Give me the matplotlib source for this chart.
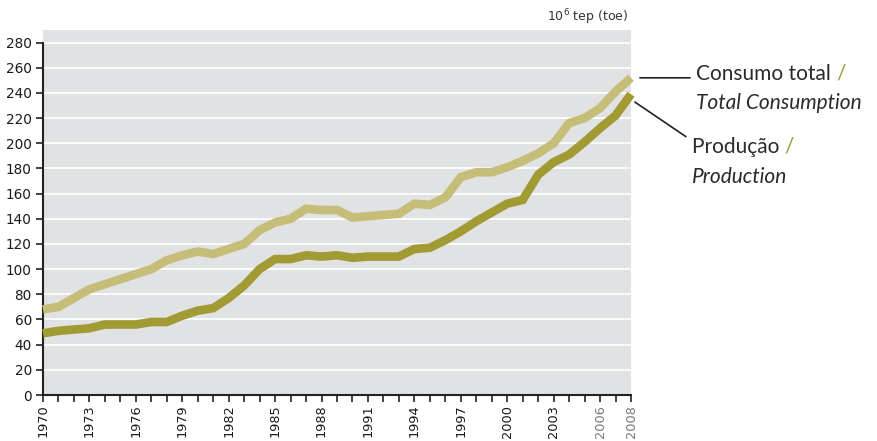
import matplotlib
matplotlib.use("Agg")
import matplotlib.pyplot as plt

# data (10^6 tep)
years = list(range(1970, 2009))
consumption = [68, 70, 77, 84, 88, 92, 96, 100, 107, 111, 114, 112, 116, 120, 131, 137, 140, 148, 147, 147,
               141, 142, 143, 144, 152, 151, 157, 173, 177, 177, 181, 186, 192, 200, 216, 220, 228, 241, 252]
production = [49, 51, 52, 53, 56, 56, 56, 58, 58, 63, 67, 69, 77, 87, 100, 108, 108, 111, 110, 111,
              109, 110, 110, 110, 116, 117, 123, 130, 138, 145, 152, 155, 175, 185, 191, 201, 212, 222, 239]
tick_years = [1970, 1973, 1976, 1979, 1982, 1985, 1988, 1991, 1994, 1997, 2000, 2003, 2006, 2008]
yticks = list(range(0, 281, 20))

LIGHT = "#c6bd78"
DARK = "#a29a33"
BG = "#e1e2e4"

fig = plt.figure(figsize=(8.77, 4.41), dpi=100)
ax = fig.add_axes([0.049, 0.1043, 0.6705, 0.8277])
ax.set_facecolor(BG)

ax.plot(years, consumption, color=LIGHT, lw=6.2, solid_capstyle="butt", solid_joinstyle="miter", clip_on=False, zorder=3)
ax.plot(years, production, color=DARK, lw=6.2, solid_capstyle="butt", solid_joinstyle="miter", clip_on=False, zorder=3)

ax.set_xlim(1970, 2008)
ax.set_ylim(0, 290)
ax.set_yticks(yticks)
ax.set_yticklabels([str(v) for v in yticks], fontsize=9.8, color="#1a1a1a")
ax.set_xticks(years, minor=True)
ax.set_xticks(tick_years)
ax.set_xticklabels([str(y) for y in tick_years], rotation=90, fontsize=9.3, color="#1a1a1a")
for lab in ax.get_xticklabels():
    if lab.get_text() in ("2006", "2008"):
        lab.set_color("#777777")

ax.grid(axis="y", color="white", lw=1.2, zorder=1)
ax.set_axisbelow(True)
for s in ("top", "right"):
    ax.spines[s].set_visible(False)
ax.spines["left"].set_bounds(0, 280)
ax.spines["left"].set_color("#222222")
ax.spines["bottom"].set_color("#222222")
ax.spines["left"].set_linewidth(1.5)
ax.spines["bottom"].set_linewidth(1.5)
ax.tick_params(axis="both", which="both", direction="out", color="#222222", width=1.2)
ax.tick_params(axis="y", length=5, pad=3)
ax.tick_params(axis="x", which="major", length=5, pad=2)
ax.tick_params(axis="x", which="minor", length=5)

fig.text(0.717, 0.962, "10$^6$ tep (toe)", ha="right", va="center", fontsize=9, color="#333333")

# labels with connector lines
ax.annotate("", xy=(2008.4, consumption[-1]), xytext=(2012.0, consumption[-1]),
            arrowprops=dict(arrowstyle="-", color="#222222", lw=1.2), annotation_clip=False)
ax.annotate("", xy=(2008.1, production[-1] - 5), xytext=(2011.7, production[-1] - 35),
            arrowprops=dict(arrowstyle="-", color="#222222", lw=1.2), annotation_clip=False)

fam = ["Lato", "DejaVu Sans"]
fs = 15
t = fig.text(0.794, 0.833, "Consumo total ", fontsize=fs, family=fam, color="#2a2a2a", va="center")
fig.canvas.draw()
bb = t.get_window_extent()
fig.text(bb.x1 / fig.bbox.width, 0.833, "/", fontsize=fs, family=fam, color=DARK, va="center")
fig.text(0.794, 0.766, "Total Consumption", fontsize=fs, family=fam, style="italic", color="#2a2a2a", va="center")

t2 = fig.text(0.789, 0.667, "Produção ", fontsize=fs, family=fam, color="#2a2a2a", va="center")
fig.canvas.draw()
bb2 = t2.get_window_extent()
fig.text(bb2.x1 / fig.bbox.width, 0.667, "/", fontsize=fs, family=fam, color=DARK, va="center")
fig.text(0.789, 0.599, "Production", fontsize=fs, family=fam, style="italic", color="#2a2a2a", va="center")

fig.savefig("out.png", dpi=100)
